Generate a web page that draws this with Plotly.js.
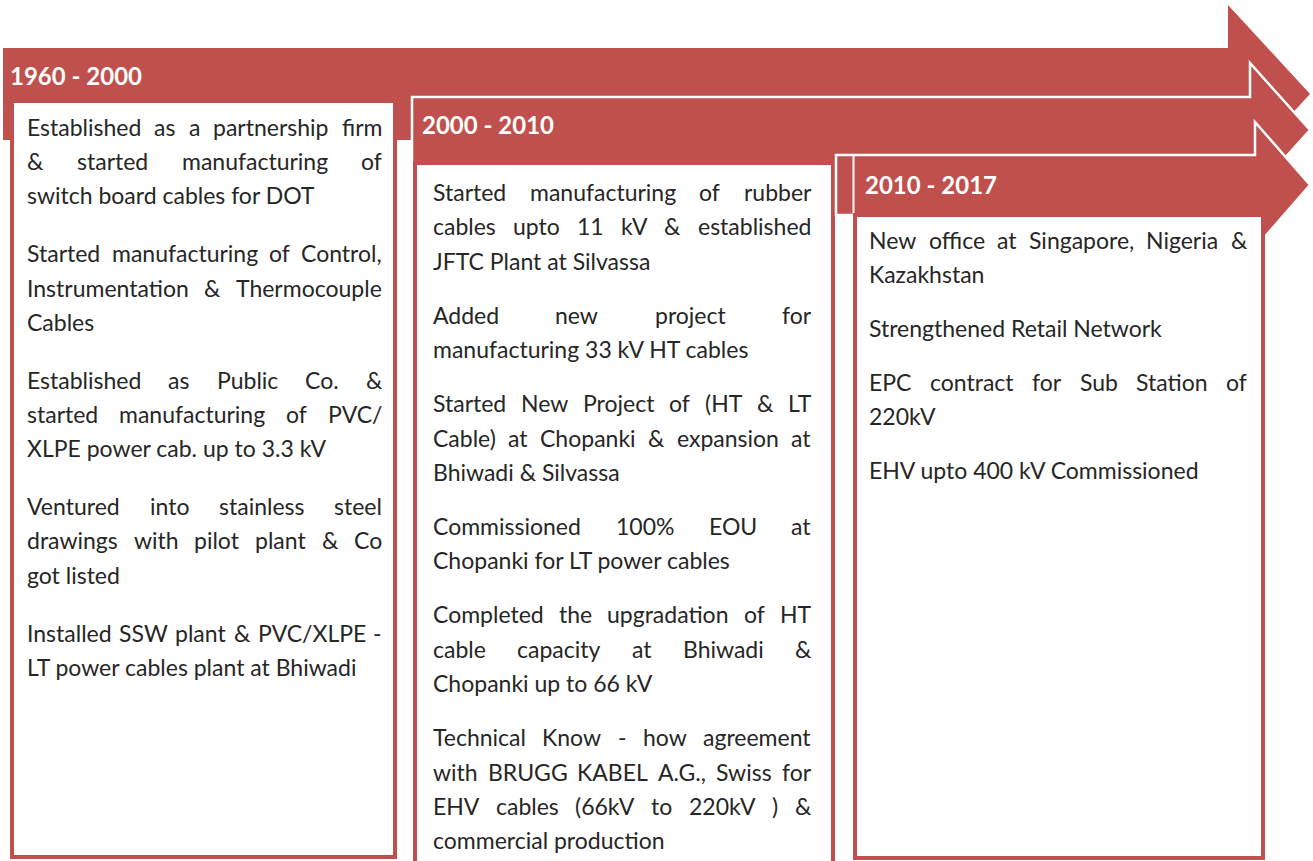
<!DOCTYPE html>
<html><head><meta charset="utf-8">
<script src="https://cdn.plot.ly/plotly-3.0.1.min.js"></script>
<style>html,body{margin:0;padding:0;background:#fff;overflow:hidden}</style>
</head><body>
<div id="chart" style="width:1313px;height:861px"></div>
<script>
// ---------- data ----------
const periods = ["1960 - 2000", "2000 - 2010", "2010 - 2017"];

const milestones1960 = [
  ["Established as a partnership firm", "& started manufacturing of", "switch board cables for DOT"],
  ["Started manufacturing of Control,", "Instrumentation & Thermocouple", "Cables"],
  ["Established as Public Co. &", "started manufacturing of PVC/", "XLPE power cab. up to 3.3 kV"],
  ["Ventured into stainless steel", "drawings with pilot plant &  Co", "got listed"],
  ["Installed SSW plant & PVC/XLPE -", "LT power cables plant at Bhiwadi"]
];

const milestones2000 = [
  ["Started manufacturing of rubber", "cables upto 11 kV & established", "JFTC Plant at Silvassa"],
  ["Added new project for", "manufacturing 33 kV HT cables"],
  ["Started New Project of (HT & LT", "Cable) at Chopanki & expansion at", "Bhiwadi & Silvassa"],
  ["Commissioned 100% EOU at", "Chopanki for LT power cables"],
  ["Completed the upgradation of HT", "cable capacity at Bhiwadi &", "Chopanki up to 66 kV"],
  ["Technical Know - how agreement", "with BRUGG KABEL A.G., Swiss for", "EHV cables (66kV to 220kV ) &", "commercial production"]
];

const milestones2010 = [
  ["New office at Singapore, Nigeria &", "Kazakhstan"],
  ["Strengthened Retail Network"],
  ["EPC contract for Sub Station of", "220kV"],
  ["EHV upto 400 kV Commissioned"]
];

// ---------- style / layout geometry ----------
const RED = "#C0504D";
const INK = "#262626";
const FONT = "Lato";
const W = 1313, H = 861;
const TIP_X = 1310;

const stages = [
  { label: periods[0], items: milestones1960,
    arrow: {x0: 3, top: 48, bottom: 140, headX: 1228, headTop: 5, outline: 0},
    box: {x0: 12, x1: 395, y0: 101, y1: 857},
    head: {x: 10, y: 75},
    text: {x0: 27, x1: 382, y: 127, line: 34.2, para: 58} },
  { label: periods[1], items: milestones2000,
    arrow: {x0: 412, top: 97, bottom: 163, headX: 1250, headTop: 63, outline: 2.5},
    box: {x0: 415, x1: 833, y0: 163, y1: 920},
    head: {x: 422, y: 124},
    text: {x0: 433, x1: 811, y: 192, line: 34.4, para: 54} },
  { label: periods[2], items: milestones2010,
    arrow: {x0: 836, top: 155, bottom: 215, headX: 1255, headTop: 122, outline: 2.5},
    box: {x0: 855, x1: 1263, y0: 215, y1: 858},
    head: {x: 865, y: 184},
    text: {x0: 869, x1: 1247, y: 240, line: 33.8, para: 54},
    divider: {x: 853.5, y0: 155, y1: 215} }
];

// ---------- measuring ----------
const cv = document.createElement('canvas');
const ctx = cv.getContext('2d');
function measure(t, size, weight) {
  ctx.font = (weight || 'normal') + ' ' + size + 'px ' + FONT;
  return ctx.measureText(t).width;
}
function esc(t) { return t.replace(/&/g, '&amp;'); }

// choose a body font size so every justified line fits its column
const MIN_GAP = 2;
function fits(size) {
  for (const s of stages) {
    const width = s.text.x1 - s.text.x0;
    for (const para of s.items) {
      for (const ln of para) {
        const words = ln.split(/\s+/);
        const sum = words.reduce((a, wd) => a + measure(wd, size), 0);
        if (words.length > 1 && (width - sum) / (words.length - 1) < MIN_GAP) return false;
        if (words.length === 1 && sum > width) return false;
      }
    }
  }
  return true;
}
let bodySize = 23;
while (bodySize > 14 && !fits(bodySize)) bodySize -= 0.25;

// ---------- shapes ----------
const shapes = [];
const annotations = [];

stages.forEach(s => {
  const a = s.arrow;
  const c = (a.top + a.bottom) / 2;
  const path = `M${a.x0},${a.top} L${a.headX},${a.top} L${a.headX},${a.headTop} L${TIP_X},${c} ` +
               `L${a.headX},${2 * c - a.headTop} L${a.headX},${a.bottom} L${a.x0},${a.bottom} Z`;
  shapes.push({type: 'path', xref: 'x', yref: 'y', path: path, fillcolor: RED,
               line: {color: a.outline ? '#ffffff' : RED, width: a.outline || 0}, layer: 'above'});
  if (s.divider) {
    shapes.push({type: 'line', xref: 'x', yref: 'y', x0: s.divider.x, x1: s.divider.x,
                 y0: s.divider.y0, y1: s.divider.y1, line: {color: '#ffffff', width: 2}, layer: 'above'});
  }
  const b = s.box;
  shapes.push({type: 'rect', xref: 'x', yref: 'y', x0: b.x0, x1: b.x1, y0: b.y0, y1: b.y1,
               fillcolor: '#ffffff', line: {color: RED, width: 4}, layer: 'above'});

  // header label
  annotations.push({xref: 'x', yref: 'y', x: s.head.x, y: s.head.y, text: '<b>' + esc(s.label) + '</b>',
    showarrow: false, xanchor: 'left', yanchor: 'middle', borderpad: 0, borderwidth: 0,
    font: {family: FONT, size: 24, color: '#ffffff'}});

  // milestone text, justified like the original
  const t = s.text, width = t.x1 - t.x0;
  let y = t.y;
  s.items.forEach((para, pi) => {
    if (pi > 0) y += t.para - t.line;
    para.forEach((ln, li) => {
      const last = li === para.length - 1;
      const words = ln.split(/\s+/);
      if (last || words.length < 2) {
        annotations.push({xref: 'x', yref: 'y', x: t.x0, y: y, text: esc(ln), showarrow: false,
          xanchor: 'left', yanchor: 'middle', borderpad: 0, borderwidth: 0,
          font: {family: FONT, size: bodySize, color: INK}});
      } else {
        const ws = words.map(wd => measure(wd, bodySize));
        const gap = (width - ws.reduce((p, q) => p + q, 0)) / (words.length - 1);
        let x = t.x0;
        words.forEach((wd, wi) => {
          annotations.push({xref: 'x', yref: 'y', x: x, y: y, text: esc(wd), showarrow: false,
            xanchor: 'left', yanchor: 'middle', borderpad: 0, borderwidth: 0,
            font: {family: FONT, size: bodySize, color: INK}});
          x += ws[wi] + gap;
        });
      }
      y += t.line;
    });
  });
});

const layout = {
  width: W, height: H,
  margin: {l: 0, r: 0, t: 0, b: 0, pad: 0},
  paper_bgcolor: '#ffffff', plot_bgcolor: '#ffffff',
  showlegend: false,
  xaxis: {range: [0, W], visible: false, fixedrange: true},
  yaxis: {range: [H, 0], visible: false, fixedrange: true},
  shapes: shapes,
  annotations: annotations
};

Plotly.newPlot('chart', [], layout, {staticPlot: true, displayModeBar: false});
</script>
</body></html>
